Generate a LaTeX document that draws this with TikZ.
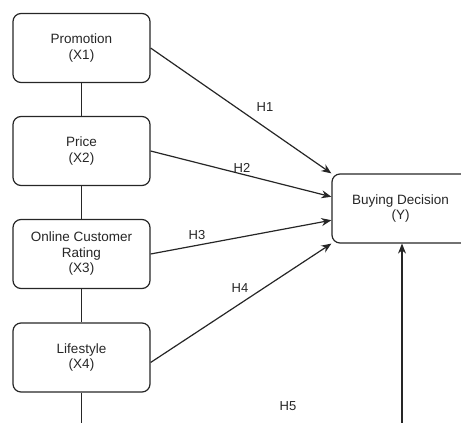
\documentclass[tikz,border=0pt]{standalone}
\usepackage{fontspec}
\setmainfont{Liberation Sans}
\usetikzlibrary{arrows.meta,calc}
\begin{document}
\begin{tikzpicture}[x=1pt,y=-1pt,
  varbox/.style={draw=black!85,line width=1.2pt,rounded corners=8pt,minimum width=137pt,minimum height=69pt,align=center,inner sep=0pt,font=\fontsize{13.5}{15.5}\selectfont,text=black!85},
  conn/.style={draw=black!85,line width=1.2pt},
  arr/.style={conn,-{Stealth[length=10pt,width=8pt]}},
  hlab/.style={font=\fontsize{13}{15}\selectfont,text=black!85,inner sep=0pt}]
\useasboundingbox (0,0) rectangle (461,423);
\clip (0,0) rectangle (461,423);
\node[varbox] (p) at (81.5,48) {Promotion\\(X1)};
\node[varbox] (pr) at (81.5,151) {Price\\(X2)};
\node[varbox] (ocr) at (81.5,254) {Online Customer\\Rating\\(X3)};
\node[varbox] (ls) at (81.5,357.5) {Lifestyle\\(X4)};
\node[varbox] (bd) at (400.5,208.5) {Buying Decision\\(Y)};
\coordinate (b1) at (81.5,440);
\coordinate (b2) at (402,440);
\draw[conn] (p) -- (pr);
\draw[conn] (pr) -- (ocr);
\draw[conn] (ocr) -- (ls);
\draw[conn] (ls) -- (b1);
\draw[arr] (p.east) -- (bd.north west);
\draw[arr] (pr.east) -- ($(bd.north west)!0.333!(bd.south west)$);
\draw[arr] (ocr.east) -- ($(bd.north west)!0.667!(bd.south west)$);
\draw[arr] ([yshift=-5pt]ls.east) -- (bd.south west);
\draw[arr] (b2) -- (b2 |- bd.south);
\node[hlab] (h1) at (265,107) {H1};
\node[hlab] (h2) at (242,168) {H2};
\node[hlab] (h3) at (197,235) {H3};
\node[hlab] (h4) at (240,288) {H4};
\node[hlab] (h5) at (288,406) {H5};
\end{tikzpicture}
\end{document}
